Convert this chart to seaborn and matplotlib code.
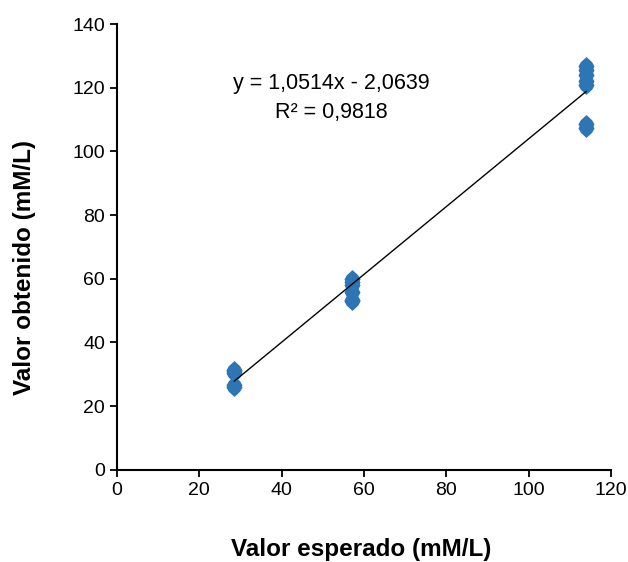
import numpy as np
import pandas as pd
import matplotlib
matplotlib.use('Agg')
import matplotlib.pyplot as plt
import seaborn as sns

# data
esperado = [28.5, 28.5, 28.5, 28.5, 28.5,
            57, 57, 57, 57, 57, 57,
            114, 114, 114, 114, 114, 114, 114]
obtenido = [26, 26.5, 30.5, 31, 31.5,
            53, 53.5, 56, 58, 59, 60,
            107.5, 108.5, 121, 122, 124, 125.5, 127]
eq_text = 'y = 1,0514x - 2,0639'
r2_text = 'R² = 0,9818'

df = pd.DataFrame({'esperado': esperado, 'obtenido': obtenido})

sns.set_style('ticks')
plt.rcParams['font.family'] = ['Liberation Sans', 'DejaVu Sans']
plt.rcParams['text.color'] = 'black'

fig = plt.figure(figsize=(6.28, 5.62), dpi=100)
ax = fig.add_axes([0.186, 0.164, 0.787, 0.793])

# Excel-like rounded diamond marker
mk = [(0, 1), (0.6, 0.45), (0.85, 0.0), (0.6, -0.45), (0, -1),
      (-0.6, -0.45), (-0.85, 0.0), (-0.6, 0.45), (0, 1)]
sns.scatterplot(data=df, x='esperado', y='obtenido', marker=mk, s=185,
                color='#2E75B6', edgecolor='#2E75B6', linewidth=0, ax=ax, zorder=2)

# linear trend line
slope, intercept = np.polyfit(esperado, obtenido, 1)
xs = np.array([min(esperado), max(esperado)])
ax.plot(xs, slope * xs + intercept, color='black', linewidth=1, zorder=3)

ax.text(52.2, 121.5, eq_text, ha='center', va='center', fontsize=15.5, color='black')
ax.text(52.2, 112.4, r2_text, ha='center', va='center', fontsize=15.5, color='black')

ax.set_xlim(0, 120)
ax.set_ylim(0, 140)
ax.set_xticks(range(0, 121, 20))
ax.set_yticks(range(0, 141, 20))
ax.tick_params(labelsize=14, length=5, width=1.3, color='black', labelcolor='black')
for s in ['left', 'bottom']:
    ax.spines[s].set_color('black')
    ax.spines[s].set_linewidth(1.5)
sns.despine(ax=ax)

ax.set_xlabel('Valor esperado (mM/L)', fontsize=17.5, fontweight='bold', color='black')
ax.set_ylabel('Valor obtenido (mM/L)', fontsize=17.5, fontweight='bold', color='black')
ax.xaxis.set_label_coords(0.494, -0.152)
ax.yaxis.set_label_coords(-0.164, 0.453)

fig.savefig('out.png', dpi=100)
